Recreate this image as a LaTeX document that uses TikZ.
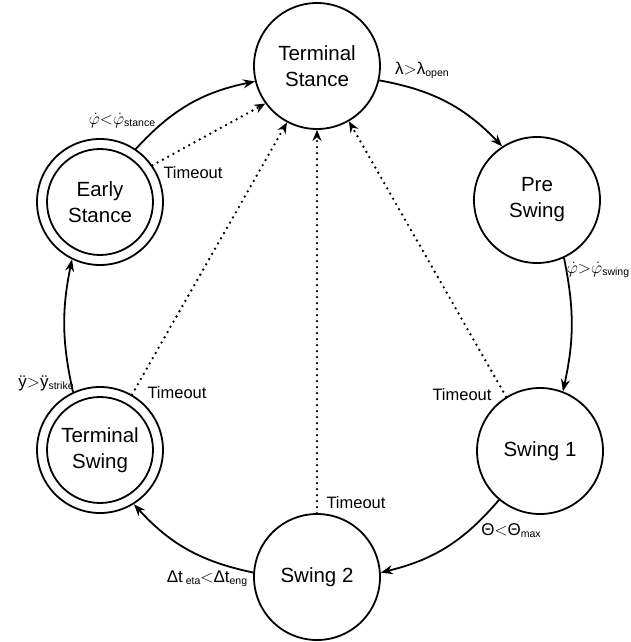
\documentclass[tikz,border=0pt]{standalone}
\usepackage{fontspec}
\setmainfont{Liberation Sans}
\usetikzlibrary{arrows.meta}
\newcommand\subtxt[1]{\raisebox{-2pt}{\fontsize{10.5}{10.5}\selectfont #1}}
\newcommand\dphi{$\dot{\varphi}$}
\begin{document}
\begin{tikzpicture}[x=1pt,y=-1pt,
  state/.style={circle,draw,line width=1.8pt,minimum size=126pt,inner sep=0pt,
    align=center,font=\fontsize{20.5}{26}\selectfont},
  finalstate/.style={state,path picture={\draw[line width=1.8pt]
    (path picture bounding box.center) circle (53pt);}},
  arr/.style={-{Stealth[length=12pt,width=9pt]},line width=1.8pt},
  tmo/.style={line width=2.6pt,dash pattern=on 0pt off 6pt,line cap=round,
    -{Stealth[length=11pt,width=9pt]}},
  lbl/.style={inner sep=0pt,font=\fontsize{17}{17}\selectfont},
  tlbl/.style={inner sep=0pt,font=\fontsize{16.5}{17}\selectfont}]
\useasboundingbox (0,0) rectangle (630,642);
\node[state] (ts) at (317,66) {Terminal\\Stance};
\node[state] (ps) at (537,200) {Pre\\Swing};
\node[state] (s1) at (540,451) {Swing 1};
\node[state] (s2) at (317,577) {Swing 2};
\node[finalstate] (tsw) at (100,450) {Terminal\\Swing};
\node[finalstate] (es) at (100,202) {Early\\Stance};
% transitions
\draw[arr] (ts.-13) to[bend left=18] (ps.123);
\draw[arr] (ps.-65) to[bend left=12] (s1.69);
\draw[arr] (s1.-130) to[bend left=18] (s2.4);
\draw[arr] (s2.176) to[bend left=18] (tsw.-58);
\draw[arr] (tsw.115) to[bend left=12] (es.-116);
\draw[arr] (es.56) to[bend left=18] (ts.194);
% timeouts
\draw[tmo] (es.35) -- (ts.216);
\draw[tmo] (tsw.60) -- (ts.242);
\draw[tmo] (s2.90) -- (ts.270);
\draw[tmo] (s1.122) -- (ts.-60);
% labels
\node[lbl] (l1) at (422,70) {λ$>$λ\subtxt{open}};
\node[lbl] (l2) at (598,270) {\dphi$>$\dphi\subtxt{swing}};
\node[lbl] (l3) at (511,531) {Θ$<$Θ\subtxt{max}};
\node[lbl] (l4) at (207,579) {Δt\,\subtxt{eta}$<$Δt\subtxt{eng}};
\node[lbl] (l5) at (46,383) {ÿ$>$ÿ\subtxt{strike}};
\node[lbl] (l6) at (122,121) {\dphi$<$\dphi\subtxt{stance}};
\node[tlbl] (t1) at (193,173) {Timeout};
\node[tlbl] (t2) at (177,393) {Timeout};
\node[tlbl] (t3) at (356,503) {Timeout};
\node[tlbl] (t4) at (462,395) {Timeout};
\end{tikzpicture}
\end{document}
